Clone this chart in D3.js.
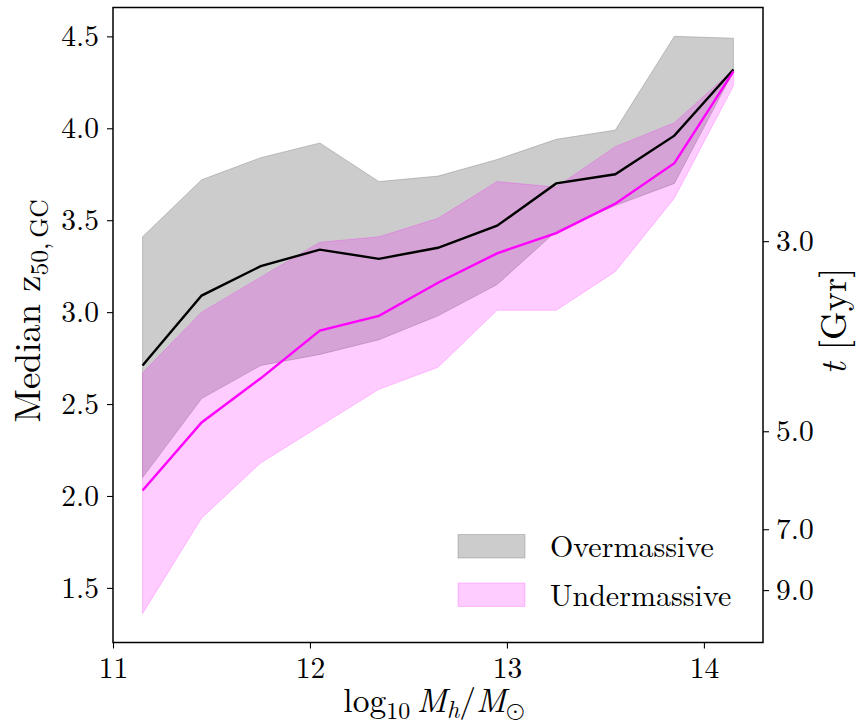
<!DOCTYPE html>
<html>
<head>
<meta charset="utf-8">
<script src="https://cdn.jsdelivr.net/npm/d3@7"></script>
<style>
  html, body { margin: 0; padding: 0; background: #fff; }
  svg { display: block; }
</style>
</head>
<body>
<svg id="chart" width="859" height="725"></svg>
<script>
// ---- data ----
const logMh = [11.15, 11.45, 11.75, 12.05, 12.35, 12.65, 12.95, 13.25, 13.55, 13.85, 14.15];
const overMedian = [2.71, 3.09, 3.25, 3.34, 3.29, 3.35, 3.47, 3.70, 3.75, 3.96, 4.32];
const overLow    = [2.10, 2.53, 2.71, 2.77, 2.85, 2.98, 3.15, 3.44, 3.58, 3.70, 4.31];
const overHigh   = [3.41, 3.72, 3.84, 3.92, 3.71, 3.74, 3.83, 3.94, 3.99, 4.50, 4.49];
const underMedian = [2.03, 2.40, 2.64, 2.90, 2.98, 3.16, 3.32, 3.43, 3.59, 3.81, 4.31];
const underLow    = [1.36, 1.88, 2.18, 2.38, 2.58, 2.70, 3.01, 3.01, 3.22, 3.62, 4.23];
const underHigh   = [2.67, 3.00, 3.19, 3.38, 3.41, 3.51, 3.71, 3.68, 3.90, 4.03, 4.32];
const xTicks = [11, 12, 13, 14];
const yTicks = [1.5, 2.0, 2.5, 3.0, 3.5, 4.0, 4.5];
const tTickLabels = ["3.0", "5.0", "7.0", "9.0"];
const tTickZ = [3.386, 2.352, 1.819, 1.488];
const seriesNames = ["Overmassive", "Undermassive"];

const FONT = "'Latin Modern Roman', 'Liberation Serif', serif";
const MATHFONT = "'Latin Modern Math', 'Latin Modern Roman', 'DejaVu Serif', serif";

// ---- layout ----
const svg = d3.select("#chart");
const L = 113, R = 763, T = 7.5, B = 642.5;
const x = d3.scaleLinear().domain([11.0, 14.3]).range([L, R]);
const y = d3.scaleLinear().domain([1.203, 4.657]).range([B, T]);

const plot = svg.append("g");

function band(lo, hi) {
  return d3.area()
    .x((d, i) => x(logMh[i]))
    .y0((d, i) => y(lo[i]))
    .y1((d, i) => y(hi[i]))(logMh);
}
function line(vals) {
  return d3.line().x((d, i) => x(logMh[i])).y((d, i) => y(vals[i]))(logMh);
}

// gray band
plot.append("path").attr("d", band(overLow, overHigh))
  .attr("fill", "#808080").attr("fill-opacity", 0.4)
  .attr("stroke", "#808080").attr("stroke-opacity", 0.4).attr("stroke-width", 1);
// pink band
plot.append("path").attr("d", band(underLow, underHigh))
  .attr("fill", "#ff00ff").attr("fill-opacity", 0.2)
  .attr("stroke", "#ff00ff").attr("stroke-opacity", 0.2).attr("stroke-width", 1);
// median lines
plot.append("path").attr("d", line(overMedian))
  .attr("fill", "none").attr("stroke", "#000").attr("stroke-width", 2.4);
plot.append("path").attr("d", line(underMedian))
  .attr("fill", "none").attr("stroke", "#ff00ff").attr("stroke-width", 2.4);

// ---- axes ----
const tickFont = 29.5;
const xAxis = svg.append("g").attr("transform", `translate(0,${B})`)
  .call(d3.axisBottom(x).tickValues(xTicks).tickFormat(d3.format("d")).tickSize(6).tickPadding(8));
const yAxis = svg.append("g").attr("transform", `translate(${L},0)`)
  .call(d3.axisLeft(y).tickValues(yTicks).tickFormat(d3.format(".1f")).tickSize(6).tickPadding(8));
const rAxis = svg.append("g").attr("transform", `translate(${R},0)`)
  .call(d3.axisRight(y).tickValues(tTickZ).tickFormat((d, i) => tTickLabels[i]).tickSize(6).tickPadding(7));
[xAxis, yAxis, rAxis].forEach(g => {
  g.attr("font-family", FONT).attr("font-size", tickFont);
  g.select(".domain").remove();
  g.selectAll(".tick line").attr("stroke", "#000").attr("stroke-width", 1.1);
  g.selectAll(".tick text").attr("font-family", FONT).attr("font-size", tickFont).attr("fill", "#000");
});
xAxis.selectAll(".tick text").attr("dy", "0.72em");

// frame
svg.append("rect").attr("x", L).attr("y", T).attr("width", R - L).attr("height", B - T)
  .attr("fill", "none").attr("stroke", "#000").attr("stroke-width", 1.5);

// ---- axis labels ----
const xl = svg.append("text").attr("x", 434).attr("y", 712)
  .attr("text-anchor", "middle").attr("font-family", FONT).attr("font-size", 33.5);
xl.append("tspan").text("log");
xl.append("tspan").text("10").attr("dy", 7).attr("font-size", 24);
xl.append("tspan").text("\u2009M").attr("dy", -7).attr("font-style", "italic");
xl.append("tspan").text("h").attr("dy", 6).attr("font-size", 24).attr("font-style", "italic");
xl.append("tspan").text("/").attr("dy", -6);
xl.append("tspan").text("M").attr("font-style", "italic");
xl.append("tspan").text("\u2299").attr("dy", 6).attr("font-size", 24).attr("font-family", MATHFONT);

const yl = svg.append("text").attr("transform", "translate(40,311) rotate(-90)")
  .attr("text-anchor", "middle").attr("font-family", FONT).attr("font-size", 36.5);
yl.append("tspan").text("Median z");
yl.append("tspan").text("50,\u2009GC").attr("dy", 8).attr("font-size", 25.5);

const rl = svg.append("text").attr("transform", "translate(846,321) rotate(-90)")
  .attr("text-anchor", "middle").attr("font-family", FONT).attr("font-size", 36.5);
rl.append("tspan").text("t").attr("font-style", "italic");
rl.append("tspan").text(" [Gyr]");

// ---- legend ----
const legend = svg.append("g");
const legFill = [
  { fill: "#808080", op: 0.4 },
  { fill: "#ff00ff", op: 0.2 }
];
seriesNames.forEach((name, i) => {
  const yy = 534.5 + i * 48.5;
  legend.append("rect").attr("x", 458).attr("y", yy).attr("width", 67).attr("height", 23.5)
    .attr("fill", legFill[i].fill).attr("fill-opacity", legFill[i].op)
    .attr("stroke", legFill[i].fill).attr("stroke-opacity", legFill[i].op).attr("stroke-width", 1);
  legend.append("text").attr("x", 550).attr("y", yy + 22.5)
    .attr("font-family", FONT).attr("font-size", 30).text(name);
});
</script>
</body>
</html>
